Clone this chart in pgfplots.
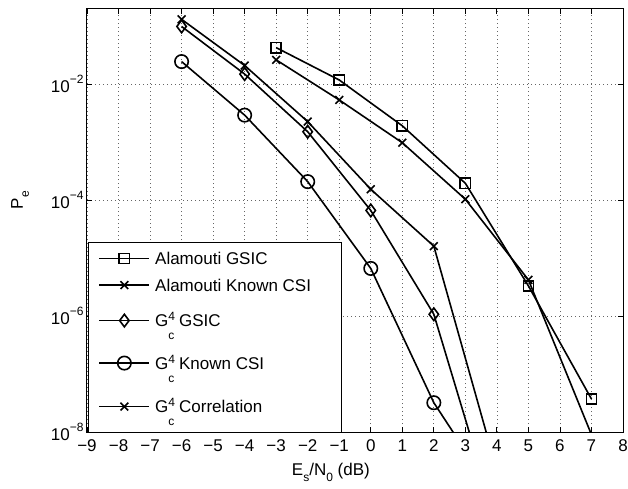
\documentclass[border=0pt]{standalone}
\usepackage{fontspec}
\setmainfont{Liberation Sans}
\usepackage{pgfplots}
\pgfplotsset{compat=1.18}

\newcommand{\tsup}[1]{\raisebox{9pt}{\fontsize{12}{12}\selectfont #1}}
\newcommand{\tsub}[1]{\raisebox{-6pt}{\fontsize{12}{12}\selectfont #1}}
\newcommand{\Gc}{G\rlap{\raisebox{6pt}{\fontsize{12}{12}\selectfont 4}}\raisebox{-13pt}{\fontsize{12}{12}\selectfont c}}
% declared row heights give the uneven spacing of the original legend
\newcommand{\legT}[2]{\raisebox{0pt}[#1][0pt]{\makebox[176pt][l]{#2}}}

\begin{document}
\begin{tikzpicture}
\begin{axis}[
  scale only axis, width=536pt, height=423pt,
  at={(0,0)}, anchor=south west,
  ymode=log,
  xmin=-9, xmax=8, ymin=1e-8, ymax=0.196,
  xtick={-9,-8,-7,-6,-5,-4,-3,-2,-1,0,1,2,3,4,5,6,7,8},
  xticklabels={−9,−8,−7,−6,−5,−4,−3,−2,−1,0,1,2,3,4,5,6,7,8},
  ytick={1e-8,1e-6,1e-4,1e-2},
  yticklabels={10\tsup{−8},10\tsup{−6},10\tsup{−4},10\tsup{−2}},
  yminorticks=false,
  tick align=inside, major tick length=5pt,
  tick style={black, line width=0.8pt},
  axis line style={line width=1pt},
  grid=major,
  grid style={black!60, line width=0.7pt, dash pattern=on 0.7pt off 3.3pt},
  ticklabel style={font=\fontsize{17}{20}\selectfont},
  label style={font=\fontsize{17}{20}\selectfont},
  xticklabel style={yshift=-4pt},
  xlabel={E\tsub{s}/N\tsub{0} (dB)},
  xlabel style={at={(axis description cs:0.455,-0.1017)}, anchor=base},
  ylabel={P\tsub{e}},
  ylabel style={at={(axis description cs:-0.125,0.548)}, anchor=center},
  every axis plot/.append style={black, line width=1.6pt},
  legend image code/.code={\draw[mark repeat=2,mark phase=2,#1]
    plot coordinates {(0pt,6pt)(25pt,6pt)(50pt,6pt)};},
  legend image post style={line width=1.6pt},
  legend style={at={(rel axis cs:0.002,0.449)}, anchor=north west,
    draw=black, line width=1pt, fill=white,
    inner xsep=10pt, inner ysep=10pt, row sep=0pt, column sep=5pt,
    nodes={inner sep=0pt}, cells={anchor=base west},
    font=\fontsize{17}{20}\selectfont},
]
\addplot[mark=square, mark size=5.1pt] coordinates
  {(-3,0.0423)(-1,0.0117)(1,1.9e-3)(3,1.94e-4)(5,3.3e-6)(7,3.7e-8)};
\addlegendentry{\legT{12pt}{Alamouti GSIC}}
\addplot[mark=x, mark size=5.5pt] coordinates
  {(-3,0.026)(-1,5.3e-3)(1,9.7e-4)(3,1.03e-4)(5,4.2e-6)(7,9e-9)};
\addlegendentry{\legT{25pt}{Alamouti Known CSI}}
\addplot[mark=diamond, mark size=6.3pt] coordinates
  {(-6,0.098)(-4,0.0148)(-2,1.5e-3)(0,6.6e-5)(2,1.07e-6)(4,2.6e-10)};
\addlegendentry{\legT{34pt}{\Gc{} GSIC}}
\addplot[mark=o, mark size=6.7pt] coordinates
  {(-6,0.0243)(-4,2.9e-3)(-2,2.07e-4)(0,6.6e-6)(2,3.2e-8)(4,7e-10)};
\addlegendentry{\legT{41pt}{\Gc{} Known CSI}}
\addplot[mark=x, mark size=5.5pt] coordinates
  {(-6,0.13)(-4,0.0208)(-2,2.24e-3)(0,1.53e-4)(2,1.6e-5)(4,2.2e-9)};
\addlegendentry{\legT{42pt}{\Gc{} Correlation}}
\addlegendimage{empty legend}
\addlegendentry{\legT{7pt}{}}
\end{axis}
\pgfresetboundingbox
\path[use as bounding box] (-87pt,-57pt) rectangle (541pt,432pt);
\end{tikzpicture}
\end{document}
